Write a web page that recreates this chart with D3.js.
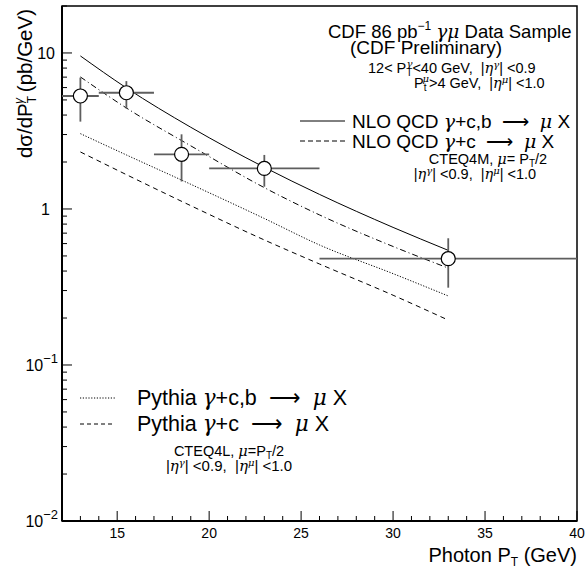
<!DOCTYPE html>
<html>
<head>
<meta charset="utf-8">
<script src="https://cdn.jsdelivr.net/npm/d3@7"></script>
<style>
  body { margin: 0; background: #fff; }
  text { font-family: "Liberation Sans", Arial, sans-serif; fill: #000; }
</style>
</head>
<body>
<div id="wrapper"></div>
<script>
// data points (photon pT bins)
const ptPoint = [13, 15.5, 18.5, 23, 33];
const ptLow   = [12, 14, 17, 20, 26];
const ptHigh  = [14, 17, 20, 26, 40];
const xsec    = [5.3, 5.56, 2.24, 1.82, 0.48];
const xsecLow = [3.63, 4.4, 1.5, 1.39, 0.313];
const xsecHigh= [6.95, 6.6, 3.01, 2.22, 0.649];

// theory curves
const curvePt   = [13, 15.5, 19, 23, 26, 30, 33];
const nloCB     = [9.57, 5.97, 3.34, 1.85, 1.24, 0.762, 0.543];
const nloC      = [7.02, 4.44, 2.54, 1.37, 0.916, 0.575, 0.418];
const pythiaCB  = [3.04, 2.22, 1.44, 0.869, 0.588, 0.385, 0.277];
const pythiaC   = [2.32, 1.66, 1.05, 0.633, 0.444, 0.28, 0.194];

const xTicks = [15, 20, 25, 30, 35, 40];

let dimensions = {
  width: 586,
  height: 573,
  margin: { top: 6, right: 9, bottom: 52, left: 62 }
};
dimensions.boundedWidth = dimensions.width - dimensions.margin.left - dimensions.margin.right;
dimensions.boundedHeight = dimensions.height - dimensions.margin.top - dimensions.margin.bottom;

const svg = d3.select("#wrapper").append("svg")
  .attr("width", dimensions.width)
  .attr("height", dimensions.height);

const xScale = d3.scaleLinear()
  .domain([12, 40])
  .range([dimensions.margin.left, dimensions.margin.left + dimensions.boundedWidth]);

const yScale = d3.scaleLog()
  .domain([0.01, 20])
  .range([dimensions.margin.top + dimensions.boundedHeight, dimensions.margin.top]);

const x0 = xScale.range()[0], x1 = xScale.range()[1];
const y0 = yScale.range()[0], y1 = yScale.range()[1];

// frame
svg.append("rect")
  .attr("x", x0).attr("y", y1)
  .attr("width", x1 - x0).attr("height", y0 - y1)
  .attr("fill", "none").attr("stroke", "#000").attr("stroke-width", 1.5);

// y ticks (inside, log minor)
const yTickVals = [];
for (let e = -2; e <= 1; e++) {
  for (let m = 1; m <= 9; m++) {
    const v = m * Math.pow(10, e);
    if (v <= 20) yTickVals.push(v);
  }
}
svg.append("g").selectAll("line")
  .data(yTickVals)
  .enter().append("line")
  .attr("x1", x0)
  .attr("x2", d => x0 + (Math.abs(Math.log10(d) - Math.round(Math.log10(d))) < 1e-9 ? 10 : 5))
  .attr("y1", d => yScale(d)).attr("y2", d => yScale(d))
  .attr("stroke", "#000").attr("stroke-width", 1);

// x ticks
const xMinor = d3.range(13, 41, 1);
svg.append("g").selectAll("line")
  .data(xMinor)
  .enter().append("line")
  .attr("x1", d => xScale(d)).attr("x2", d => xScale(d))
  .attr("y1", y0)
  .attr("y2", d => y0 - (d % 5 === 0 ? 10 : 5))
  .attr("stroke", "#000").attr("stroke-width", 1);

// thicker axis lines
svg.append("line").attr("x1", x0).attr("x2", x0).attr("y1", y1).attr("y2", y0)
  .attr("stroke", "#000").attr("stroke-width", 2);
svg.append("line").attr("x1", x0).attr("x2", x1).attr("y1", y0).attr("y2", y0)
  .attr("stroke", "#000").attr("stroke-width", 2);

// x tick labels
svg.append("g").selectAll("text")
  .data(xTicks)
  .enter().append("text")
  .attr("x", d => xScale(d))
  .attr("y", y0 + 17)
  .attr("text-anchor", "middle")
  .attr("font-size", 14)
  .text(d => d);

// y tick labels
const yLab = svg.append("g").attr("font-size", 16);
yLab.append("text").attr("x", 55).attr("y", yScale(10) + 6).attr("text-anchor", "end").text("10");
yLab.append("text").attr("x", 50).attr("y", yScale(1) + 6).attr("text-anchor", "end").text("1");
yLab.append("text").attr("x", 58).attr("y", yScale(0.1) + 6).attr("text-anchor", "end")
  .html('10<tspan font-size="13" dy="-8">−1</tspan>');
yLab.append("text").attr("x", 58).attr("y", yScale(0.01) + 6).attr("text-anchor", "end")
  .html('10<tspan font-size="13" dy="-8">−2</tspan>');

// axis titles
svg.append("text")
  .attr("x", x1).attr("y", 562)
  .attr("text-anchor", "end").attr("font-size", 20)
  .html('Photon P<tspan font-size="12" dy="4">T</tspan><tspan dy="-4"> (GeV)</tspan>');

svg.append("text")
  .attr("transform", "translate(32,9) rotate(-90)")
  .attr("text-anchor", "end").attr("font-size", 20.5)
  .html('dσ/dP<tspan font-size="12" dy="4">T</tspan><tspan font-size="12" dx="-8" dy="-13" font-style="italic">γ</tspan><tspan dy="9"> (pb/GeV)</tspan>');

// theory curves
const line = d3.line()
  .x(d => xScale(d[0]))
  .y(d => yScale(d[1]))
  .curve(d3.curveMonotoneX);

const curves = [
  { vals: nloCB, dash: null },
  { vals: nloC, dash: "6,3,1,3" },
  { vals: pythiaCB, dash: "1.2,1.6" },
  { vals: pythiaC, dash: "5,4" }
];

svg.append("g").selectAll("path")
  .data(curves)
  .enter().append("path")
  .attr("d", c => line(curvePt.map((p, i) => [p, c.vals[i]])))
  .attr("fill", "none")
  .attr("stroke", "#000")
  .attr("stroke-width", 1)
  .attr("stroke-dasharray", c => c.dash);

// data points with error bars
const pts = ptPoint.map((p, i) => ({ x: p, lo: ptLow[i], hi: ptHigh[i], y: xsec[i], ylo: xsecLow[i], yhi: xsecHigh[i] }));
const errG = svg.append("g").attr("stroke", "#5e5e5e").attr("stroke-width", 1.8);
errG.selectAll(".hbar").data(pts).enter().append("line")
  .attr("x1", d => xScale(d.lo)).attr("x2", d => xScale(d.hi))
  .attr("y1", d => yScale(d.y)).attr("y2", d => yScale(d.y));
errG.selectAll(".vbar").data(pts).enter().append("line")
  .attr("x1", d => xScale(d.x)).attr("x2", d => xScale(d.x))
  .attr("y1", d => yScale(d.ylo)).attr("y2", d => yScale(d.yhi));
svg.append("g").selectAll("circle").data(pts).enter().append("circle")
  .attr("cx", d => xScale(d.x)).attr("cy", d => yScale(d.y))
  .attr("r", 7).attr("fill", "#fff").attr("stroke", "#000").attr("stroke-width", 1.2);

// helpers for Greek letters and small scripts
const G = s => '<tspan font-family="DejaVu Serif" font-style="italic">' + s + '</tspan>';
const eta = (sup, rest) => '|' + G('η') + '</tspan><tspan font-size="10" dy="-5">' + G(sup) + '</tspan><tspan dy="5">' + rest;

// header text
svg.append("text").attr("x", 328).attr("y", 38).attr("font-size", 18.5)
  .html('CDF 86 pb<tspan font-size="12" dy="-8">−1</tspan><tspan dy="8"> ' + G('γμ') + ' Data Sample</tspan>');
svg.append("text").attr("x", 426).attr("y", 54).attr("font-size", 19).attr("text-anchor", "middle")
  .text("(CDF Preliminary)");
svg.append("text").attr("x", 368).attr("y", 73).attr("font-size", 14.5).attr("xml:space", "preserve")
  .html('12&lt; P<tspan font-size="10" dy="3">T</tspan><tspan font-size="10" dx="-6" dy="-9">' + G('γ') + '</tspan><tspan dy="6">&lt;40 GeV,  ' + eta('γ', '| &lt;0.9') + '</tspan>');
svg.append("text").attr("x", 414).attr("y", 88).attr("font-size", 14.5).attr("xml:space", "preserve")
  .html('P<tspan font-size="10" dy="3">t</tspan><tspan font-size="10" dx="-4" dy="-9">' + G('μ') + '</tspan><tspan dy="6">&gt;4 GeV,  ' + eta('μ', '| &lt;1.0') + '</tspan>');

// NLO legend
const legNLO = [
  { y: 121, dash: null, label: 'NLO QCD ' + G('γ') + '+c,b  ⟶  ' + G('μ') + ' X' },
  { y: 141, dash: "5,3", label: 'NLO QCD ' + G('γ') + '+c  ⟶  ' + G('μ') + ' X' }
];
legNLO.forEach(l => {
  svg.append("line").attr("x1", 300).attr("x2", 345).attr("y1", l.y).attr("y2", l.y)
    .attr("stroke", "#000").attr("stroke-width", 1).attr("stroke-dasharray", l.dash);
  svg.append("text").attr("x", 352).attr("y", l.y + 7).attr("font-size", 19)
    .attr("xml:space", "preserve").html(l.label);
});
svg.append("text").attr("x", 488).attr("y", 164).attr("font-size", 14.5).attr("text-anchor", "middle")
  .html('CTEQ4M, ' + G('μ') + '= P<tspan font-size="10" dy="3">T</tspan><tspan dy="-3">/2</tspan>');
svg.append("text").attr("x", 475).attr("y", 179).attr("font-size", 14.5).attr("text-anchor", "middle")
  .attr("xml:space", "preserve")
  .html('<tspan>' + eta('γ', '| &lt;0.9,  ') + '</tspan><tspan>' + eta('μ', '| &lt;1.0') + '</tspan>');

// Pythia legend
const legPy = [
  { y: 398, dash: "1.2,1.6", label: 'Pythia ' + G('γ') + '+c,b  ⟶  ' + G('μ') + ' X' },
  { y: 424, dash: "4,3", label: 'Pythia ' + G('γ') + '+c  ⟶  ' + G('μ') + ' X' }
];
legPy.forEach(l => {
  svg.append("line").attr("x1", 80).attr("x2", 115).attr("y1", l.y).attr("y2", l.y)
    .attr("stroke", "#000").attr("stroke-width", 1).attr("stroke-dasharray", l.dash);
  svg.append("text").attr("x", 137).attr("y", l.y + 7).attr("font-size", 21.5)
    .attr("xml:space", "preserve").html(l.label);
});
svg.append("text").attr("x", 229).attr("y", 456).attr("font-size", 14.5).attr("text-anchor", "middle")
  .html('CTEQ4L, ' + G('μ') + '=P<tspan font-size="10" dy="3">T</tspan><tspan dy="-3">/2</tspan>');
svg.append("text").attr("x", 229).attr("y", 471).attr("font-size", 15).attr("text-anchor", "middle")
  .attr("xml:space", "preserve")
  .html('<tspan>' + eta('γ', '| &lt;0.9,  ') + '</tspan><tspan>' + eta('μ', '| &lt;1.0') + '</tspan>');
</script>
</body>
</html>
